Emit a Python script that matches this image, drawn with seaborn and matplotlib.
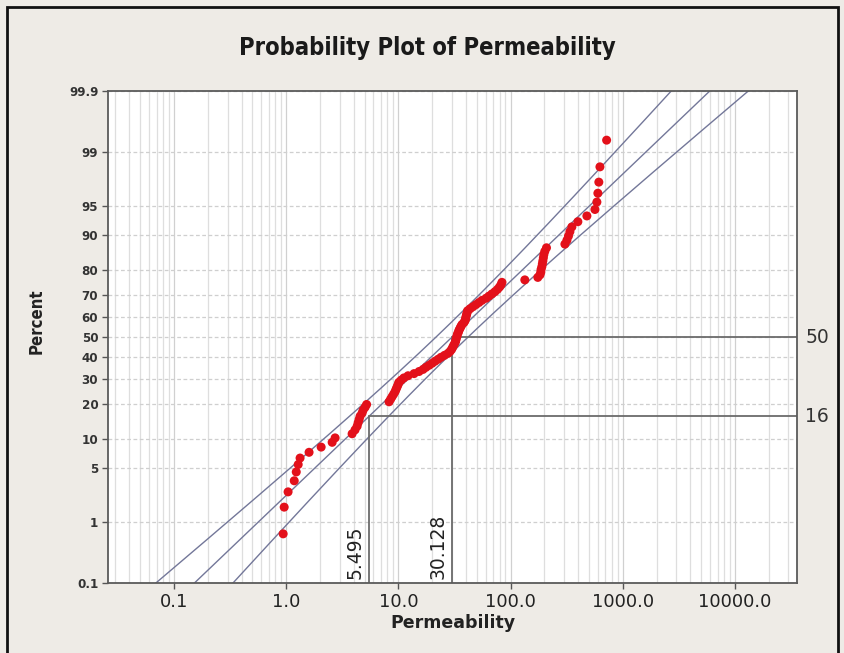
import numpy as np
import matplotlib
matplotlib.use("Agg")
import matplotlib.pyplot as plt
import seaborn as sns
import pandas as pd
from matplotlib.patches import Rectangle
from statistics import NormalDist

# Permeability sample (sorted), one value per specimen
permeability = [
    0.94, 0.96, 1.04, 1.18, 1.23, 1.28, 1.33, 1.60, 2.05, 2.57,
    2.73, 3.87, 4.11, 4.29, 4.38, 4.47, 4.56, 4.75, 4.85, 5.05,
    5.21, 8.26, 8.53, 8.80, 9.08, 9.35, 9.54, 9.74, 9.94, 10.1,
    10.6, 11.2, 12.2, 13.8, 15.3, 16.6, 17.6, 18.8, 20.0, 21.2,
    22.6, 24.0, 25.8, 27.7, 28.9, 29.8, 30.4, 31.0, 31.7, 32.3,
    32.6, 32.9, 33.3, 33.6, 34.3, 34.7, 35.4, 36.1, 36.9, 38.4,
    39.3, 39.7, 40.1, 40.5, 41.0, 41.4, 43.6, 46.3, 49.2, 52.3,
    55.6, 60.4, 64.2, 68.3, 72.6, 76.4, 79.6, 82.2, 83.8, 134.0,
    175.0, 183.0, 186.0, 187.0, 190.0, 192.0, 194.0, 196.0, 198.0, 202.0,
    209.0, 305.0, 318.0, 328.0, 338.0, 352.0, 398.0, 479.0, 565.0, 588.0,
    600.0, 612.0, 626.0, 718.0,
]

# Percentile markers of the fitted lognormal distribution
pct_levels = [16, 50]
pct_values = [5.495, 30.128]

# Axis ticks
y_ticks = [0.1, 1, 5, 10, 20, 30, 40, 50, 60, 70, 80, 90, 95, 99, 99.9]
y_tick_labels = ["0.1", "1", "5", "10", "20", "30", "40", "50", "60", "70",
                 "80", "90", "95", "99", "99.9"]
x_ticks = [0.1, 1.0, 10.0, 100.0, 1000.0, 10000.0]
x_tick_labels = ["0.1", "1.0", "10.0", "100.0", "1000.0", "10000.0"]

nd = NormalDist()

# Median-rank plotting positions on the normal-probability axis
n = len(permeability)
ranks = np.arange(1, n + 1)
plot_pos = (ranks - 0.3) / (n + 0.4)
z_pts = np.array([nd.inv_cdf(p) for p in plot_pos])
df = pd.DataFrame({"Permeability": permeability, "z": z_pts})

# Lognormal fit from the 16th / 50th percentiles
z16 = nd.inv_cdf(pct_levels[0] / 100)
mu = np.log(pct_values[1])
sigma = (np.log(pct_values[1]) - np.log(pct_values[0])) / (0 - z16)

zz = np.linspace(-3.3, 3.3, 300)
centre = mu + zz * sigma
half = 1.96 * sigma * np.sqrt(1.0 / n + zz ** 2 / (2.0 * n))

sns.set_style("white")
plt.rcParams["font.family"] = ["DejaVu Sans"]

W, H = 844, 653
fig = plt.figure(figsize=(W / 100, H / 100), dpi=100)
fig.patch.set_facecolor("#eeebe6")

L, R, T, B = 108, 797, 91, 583
ax = fig.add_axes([L / W, 1 - B / H, (R - L) / W, (B - T) / H])
ax.set_facecolor("white")

xmin, xmax = 10 ** -1.588, 10 ** 4.553
ymin, ymax = nd.inv_cdf(0.001), nd.inv_cdf(0.999)
ax.set_xscale("log")
ax.set_xlim(xmin, xmax)
ax.set_ylim(ymin, ymax)

# grid: vertical log lines, horizontal dashed at percent ticks
for dec in range(-2, 5):
    for m in range(1, 10):
        v = m * 10.0 ** dec
        if xmin < v < xmax:
            ax.axvline(v, color="#dedede" if m > 1 else "#d0d0d0",
                       lw=0.9, zorder=0)
for yt in y_ticks:
    ax.axhline(nd.inv_cdf(yt / 100), color="#cfcfcf", lw=0.9,
               ls=(0, (3, 2)), zorder=0)

# fitted line and confidence bounds
line_col = "#737799"
ax.plot(np.exp(centre), zz, color=line_col, lw=1.0, zorder=2)
ax.plot(np.exp(centre - half), zz, color=line_col, lw=1.0, zorder=2)
ax.plot(np.exp(centre + half), zz, color=line_col, lw=1.0, zorder=2)

# percentile reference lines
ref_col = "#6b6b6b"
for lev, val in zip(pct_levels, pct_values):
    zl = nd.inv_cdf(lev / 100)
    ax.plot([val, xmax], [zl, zl], color=ref_col, lw=1.3, zorder=2)
    ax.plot([val, val], [ymin, zl], color=ref_col, lw=1.3, zorder=2)
    ax.text(1.012, zl, str(lev), transform=ax.get_yaxis_transform(),
            ha="left", va="center", fontsize=13.5, color="#333333")
    ax.annotate(f"{val:.3f}", xy=(val, ymin), xytext=(-3, 3),
                textcoords="offset points", rotation=90,
                ha="right", va="bottom", fontsize=13.5, color="#222222")

sns.scatterplot(data=df, x="Permeability", y="z", ax=ax, color="#e3101a",
                s=42, edgecolor="none", zorder=3, legend=False)

ax.set_yticks([nd.inv_cdf(t / 100) for t in y_ticks])
ax.set_yticklabels(y_tick_labels, fontsize=9.5, fontweight="bold",
                   fontstretch="condensed", color="#333333")
ax.set_xticks(x_ticks)
ax.set_xticklabels(x_tick_labels, fontsize=13, color="#222222")
ax.xaxis.set_minor_locator(matplotlib.ticker.NullLocator())
ax.tick_params(axis="both", direction="out", length=4, width=1,
               color="#555555", left=True, bottom=True, pad=3)

for s in ax.spines.values():
    s.set_color("#5a5a5a")
    s.set_linewidth(1.3)

ax.set_xlabel("Permeability", fontsize=12.5, fontweight="bold",
              color="#222222", labelpad=2)
ax.set_ylabel("Percent", fontsize=12, fontweight="bold",
              fontstretch="condensed", color="#222222")
ax.yaxis.set_label_coords((46 - L) / (R - L), (B - 321) / (B - T))

fig.text(427 / W, 1 - 48 / H, "Probability Plot of Permeability",
         ha="center", va="center", fontsize=17, fontweight="bold",
         fontstretch="condensed", color="#1a1a1a")

# outer frame
fig.patches.append(Rectangle((7 / W, -0.05), (838 - 7) / W, 1.05 - 7 / H,
                             transform=fig.transFigure, fill=False,
                             edgecolor="#111111", lw=2.0))

fig.savefig("out.png", dpi=100, facecolor=fig.get_facecolor())
